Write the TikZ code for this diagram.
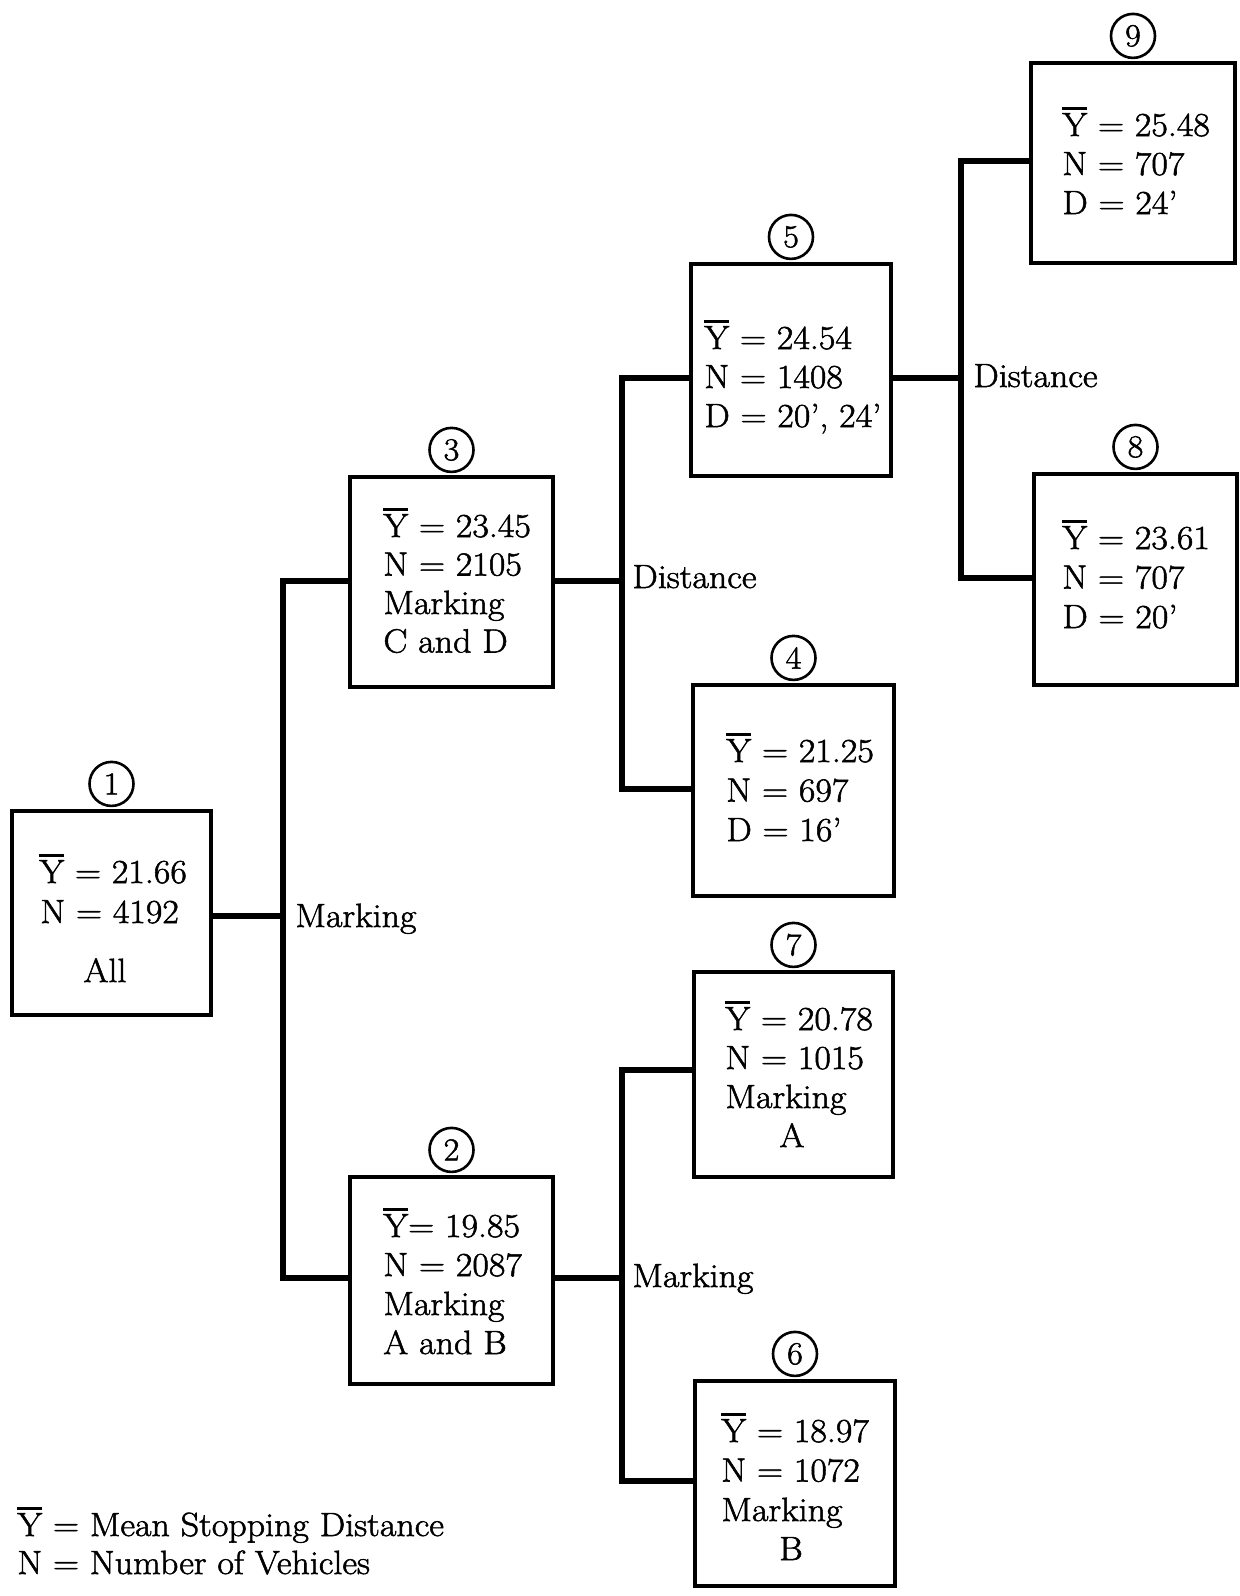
\documentclass[tikz,border=0pt]{standalone}
\usepackage{fontspec}
\setmainfont{Latin Modern Roman}[FakeStretch=1.07, FakeBold=1.6]
\usetikzlibrary{positioning}
\newcommand\Ybar{\leavevmode\vbox{\hrule height 1.3pt\kern 1.6pt\hbox{Y}}}
\tikzset{
  box/.style={draw, line width=1.8pt, inner sep=0pt},
  conn/.style={line width=3pt},
  num/.style={draw, circle, line width=1.3pt, minimum size=22pt, inner sep=0pt, font=\fontsize{16}{16}\selectfont},
  txt/.style={anchor=base west, inner sep=0pt, font=\fontsize{16.8}{19.5}\selectfont},
  ctxt/.style={anchor=base, inner sep=0pt, font=\fontsize{16.8}{19.5}\selectfont},
}
\begin{document}
\begin{tikzpicture}[x=0.5pt,y=-0.5pt]
\useasboundingbox (0,0) rectangle (1239,1596);
% boxes
\node[box, minimum width=99.5pt, minimum height=102pt]   (b1) at (111.5,913) {};
\node[box, minimum width=101.5pt, minimum height=105pt]  (b3) at (451.5,582) {};
\node[box, minimum width=101.5pt, minimum height=103.5pt](b2) at (451.5,1280.5) {};
\node[box, minimum width=100pt, minimum height=106pt]    (b5) at (791,370) {};
\node[box, minimum width=100.5pt, minimum height=105.5pt](b4) at (793.5,790.5) {};
\node[box, minimum width=99.5pt, minimum height=102.5pt] (b7) at (793.5,1074.5) {};
\node[box, minimum width=100pt, minimum height=102.5pt]  (b6) at (795,1483.5) {};
\node[box, minimum width=102pt, minimum height=100pt]    (b9) at (1133,163) {};
\node[box, minimum width=101.5pt, minimum height=105.5pt](b8) at (1135.5,579.5) {};
% number circles
\foreach \k in {1,...,9} \node[num, above=1pt of b\k] (n\k) {\k};
% junction coordinates
\coordinate (m1) at (283,916);
\coordinate (m3) at (283,581);
\coordinate (m2) at (283,1278);
\coordinate (p3) at (622,581);
\coordinate (p5) at (622,378);
\coordinate (p4) at (622,789);
\coordinate (p2) at (622,1278);
\coordinate (p7) at (622,1070);
\coordinate (p6) at (622,1481);
\coordinate (q5) at (961,378);
\coordinate (q9) at (961,161);
\coordinate (q8) at (961,578);
% connectors
\draw[conn] (b1.east |- m1) -- (m1);
\draw[conn] (b3.west |- m3) -- (m3) -- (m2) -- (b2.west |- m2);
\draw[conn] (b3.east |- p3) -- (p3);
\draw[conn] (b5.west |- p5) -- (p5) -- (p4) -- (b4.west |- p4);
\draw[conn] (b2.east |- p2) -- (p2);
\draw[conn] (b7.west |- p7) -- (p7) -- (p6) -- (b6.west |- p6);
\draw[conn] (b5.east |- q5) -- (q5);
\draw[conn] (b9.west |- q9) -- (q9) -- (q8) -- (b8.west |- q8);
% branch labels
\node[txt] (l1) at (295,927) {Marking};
\node[txt] (l2) at (632,588) {Distance};
\node[txt] (l3) at (632,1287) {Marking};
\node[txt] (l4) at (973,387) {Distance};
% box texts
\node[txt] (t1-0) at (39,883) {\Ybar{} = 21.66};
\node[txt] (t1-1) at (40,923) {N = 4192};
\node[ctxt] (t1-2) at (105,982) {All};
\foreach \s [count=\i from 0] in {{\Ybar{} = 23.45},{N = 2105},{Marking},{C and D}}
  \node[txt] (t3-\i) at (383,537+38.5*\i) {\s};
\foreach \s [count=\i from 0] in {{\Ybar{} = 24.54},{N = 1408},{D = 20', 24'}}
  \node[txt] (t5-\i) at (704,349+39*\i) {\s};
\foreach \s [count=\i from 0] in {{\Ybar{} = 21.25},{N = 697},{D = 16'}}
  \node[txt] (t4-\i) at (726,762+39.5*\i) {\s};
\foreach \s [count=\i from 0] in {{\Ybar{} = 25.48},{N = 707},{D = 24'}}
  \node[txt] (t9-\i) at (1062,136+39*\i) {\s};
\foreach \s [count=\i from 0] in {{\Ybar{} = 23.61},{N = 707},{D = 20'}}
  \node[txt] (t8-\i) at (1062,549+39.5*\i) {\s};
\foreach \s [count=\i from 0] in {{\Ybar{} = 20.78},{N = 1015},{Marking}}
  \node[txt] (t7-\i) at (725,1030+39*\i) {\s};
\node[ctxt] (t7-3) at (792,1147) {A};
\foreach \s [count=\i from 0] in {{\Ybar= 19.85},{N = 2087},{Marking},{A and B}}
  \node[txt] (t2-\i) at (383,1237+39*\i) {\s};
\foreach \s [count=\i from 0] in {{\Ybar{} = 18.97},{N = 1072},{Marking}}
  \node[txt] (t6-\i) at (721,1442+39.5*\i) {\s};
\node[ctxt] (t6-3) at (791,1560) {B};
% legend
\node[txt] (g1) at (17,1536) {\Ybar{} = Mean Stopping Distance};
\node[txt] (g2) at (17,1574) {N = Number of Vehicles};
\end{tikzpicture}
\end{document}
